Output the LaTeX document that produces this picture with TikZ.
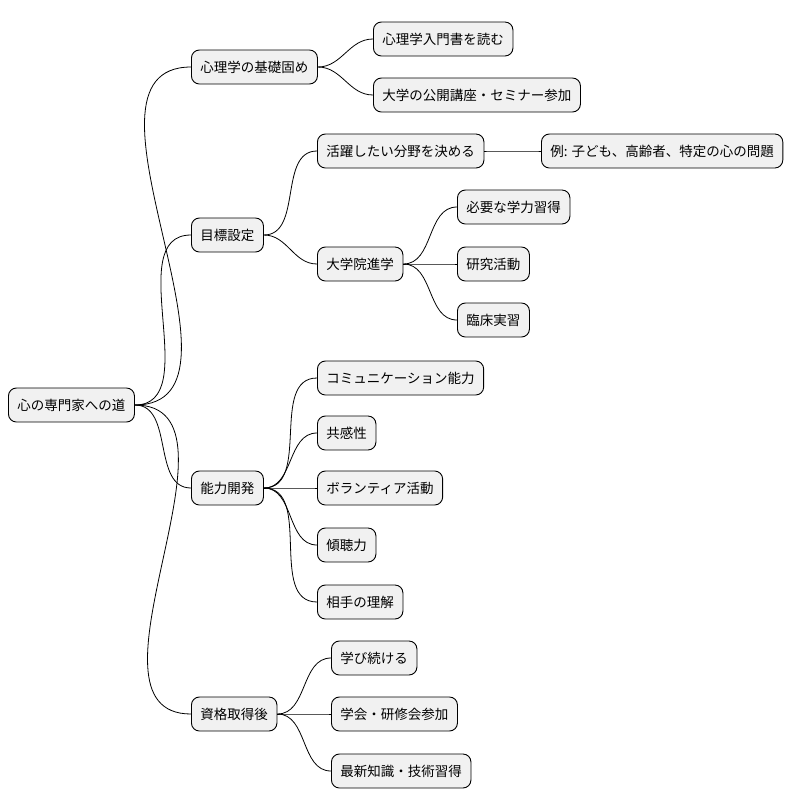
\documentclass[tikz,border=0pt]{standalone}
\usepackage{fontspec}
\setmainfont{Noto Sans CJK JP}
\usetikzlibrary{positioning}
\definecolor{boxfill}{HTML}{F1F1F1}
\tikzset{%
  x=1pt, y=-1pt,
  topic/.style={draw, fill=boxfill, rounded corners=8pt, line width=0.9pt,
    minimum height=34pt, inner xsep=9pt, anchor=west,
    font=\fontsize{13.5}{16}\selectfont}, % every box of the map
  branch/.style={draw, line width=0.8pt}
}
\begin{document}
\begin{tikzpicture}
  \useasboundingbox (0,0) rectangle (806,809);
  % root and first level
  \node[topic] (root) at (8,405) {心の専門家への道};
  \node[topic] (base) at (191,67) {心理学の基礎固め};
  \node[topic] (goal) at (191,235) {目標設定};
  \node[topic] (skill) at (191,488) {能力開発};
  \node[topic] (after) at (191,714) {資格取得後};

  % second and third level
  \node[topic] (intro) at (373,39) {心理学入門書を読む};
  \node[topic] (semi) at (373,95) {大学の公開講座・セミナー参加};
  \node[topic] (field) at (317,151) {活躍したい分野を決める};
  \node[topic] (ex) at (541,151) {例: 子ども、高齢者、特定の心の問題};
  \node[topic] (grad) at (317,264) {大学院進学};
  \node[topic] (study) at (457,207) {必要な学力習得};
  \node[topic] (res) at (457,264) {研究活動};
  \node[topic] (clin) at (457,320) {臨床実習};
  \node[topic] (comm) at (317,378) {コミュニケーション能力};
  \node[topic] (emp) at (317,433) {共感性};
  \node[topic] (vol) at (317,488) {ボランティア活動};
  \node[topic] (listen) at (317,545) {傾聴力};
  \node[topic] (under) at (317,602) {相手の理解};
  \node[topic] (learn) at (331,658) {学び続ける};
  \node[topic] (conf) at (331,714) {学会・研修会参加};
  \node[topic] (news) at (331,771) {最新知識・技術習得};

  \foreach \a/\b in {root/base, root/goal, root/skill, root/after,
      base/intro, base/semi, goal/field, goal/grad, field/ex,
      grad/study, grad/res, grad/clin,
      skill/comm, skill/emp, skill/vol, skill/listen, skill/under,
      after/learn, after/conf, after/news}
    \draw[branch] (\a.east) to[out=0, in=180] (\b.west);
\end{tikzpicture}
\end{document}
